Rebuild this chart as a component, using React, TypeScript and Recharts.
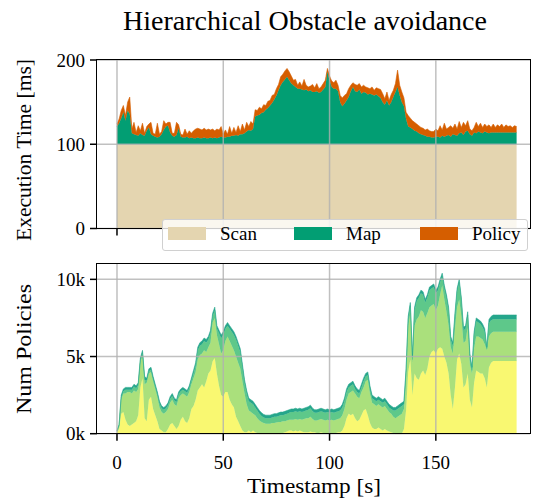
import { AreaChart, Area, XAxis, YAxis, ReferenceLine } from 'recharts'

// seconds since start
const timestamps = [
  0, 1, 2, 3, 4, 5, 6, 7, 8, 9, 10, 11, 12, 13, 14, 15, 16, 17, 18, 19,
  20, 21, 22, 23, 24, 25, 26, 27, 28, 29, 30, 31, 32, 33, 34, 35, 36, 37, 38, 39,
  40, 41, 42, 43, 44, 45, 46, 47, 48, 49, 50, 51, 52, 53, 54, 55, 56, 57, 58, 59,
  60, 61, 62, 63, 64, 65, 66, 67, 68, 69, 70, 71, 72, 73, 74, 75, 76, 77, 78, 79,
  80, 81, 82, 83, 84, 85, 86, 87, 88, 89, 90, 91, 92, 93, 94, 95, 96, 97, 98, 99,
  100, 101, 102, 103, 104, 105, 106, 107, 108, 109, 110, 111, 112, 113, 114, 115, 116, 117, 118, 119,
  120, 121, 122, 123, 124, 125, 126, 127, 128, 129, 130, 131, 132, 133, 134, 135, 136, 137, 138, 139,
  140, 141, 142, 143, 144, 145, 146, 147, 148, 149, 150, 151, 152, 153, 154, 155, 156, 157, 158, 159,
  160, 161, 162, 163, 164, 165, 166, 167, 168, 169, 170, 171, 172, 173, 174, 175, 176, 177, 178, 179,
  180, 181, 182, 183, 184, 185, 186, 187, 188,
]

// execution time per stage [ms]
const scanMs = [
  100, 100, 100, 100, 100, 100, 100, 100, 100, 100, 100, 100, 100, 100, 100, 100, 100, 100, 100, 100,
  100, 100, 100, 100, 100, 100, 100, 100, 100, 100, 100, 100, 100, 100, 100, 100, 100, 100, 100, 100,
  100, 100, 100, 100, 100, 100, 100, 100, 100, 100, 100, 100, 100, 100, 100, 100, 100, 100, 100, 100,
  100, 100, 100, 100, 100, 100, 100, 100, 100, 100, 100, 100, 100, 100, 100, 100, 100, 100, 100, 100,
  100, 100, 100, 100, 100, 100, 100, 100, 100, 100, 100, 100, 100, 100, 100, 100, 100, 100, 100, 100,
  100, 100, 100, 100, 100, 100, 100, 100, 100, 100, 100, 100, 100, 100, 100, 100, 100, 100, 100, 100,
  100, 100, 100, 100, 100, 100, 100, 100, 100, 100, 100, 100, 100, 100, 100, 100, 100, 100, 100, 100,
  100, 100, 100, 100, 100, 100, 100, 100, 100, 100, 100, 100, 100, 100, 100, 100, 100, 100, 100, 100,
  100, 100, 100, 100, 100, 100, 100, 100, 100, 100, 100, 100, 100, 100, 100, 100, 100, 100, 100, 100,
  100, 100, 100, 100, 100, 100, 100, 100, 100,
]

const mapMs = [
  21, 25, 31, 38, 28, 40, 36, 13, 12, 11, 10, 13, 11, 10, 16, 20, 12, 10, 9, 8,
  9, 12, 17, 21, 22, 14, 10, 9, 11, 19, 9, 8, 8, 9, 7, 8, 7, 7, 8, 7,
  7, 8, 7, 7, 8, 7, 8, 7, 8, 9, 8, 8, 9, 9, 10, 10, 11, 10, 12, 12,
  13, 15, 17, 16, 18, 33, 34, 35, 37, 38, 41, 43, 46, 49, 53, 58, 64, 70, 74, 77,
  80, 76, 72, 70, 68, 66, 66, 65, 64, 65, 63, 64, 62, 62, 63, 61, 62, 65, 68, 86,
  76, 68, 66, 66, 63, 50, 45, 48, 52, 56, 63, 68, 63, 62, 65, 60, 62, 61, 59, 60,
  59, 58, 59, 57, 55, 50, 47, 52, 46, 50, 56, 62, 68, 58, 50, 45, 30, 21, 20, 18,
  16, 15, 13, 12, 11, 10, 9, 9, 8, 8, 9, 9, 8, 10, 9, 10, 11, 9, 12, 11,
  10, 13, 14, 11, 15, 16, 12, 10, 14, 13, 15, 14, 13, 15, 14, 13, 14, 14, 14, 14,
  14, 14, 14, 14, 14, 14, 14, 14, 14,
]

const policyMs = [
  3, 5, 9, 8, 6, 10, 20, 5, 14, 3, 12, 3, 14, 3, 5, 4, 14, 3, 3, 17,
  3, 3, 11, 3, 4, 12, 3, 4, 15, 4, 3, 3, 10, 3, 9, 5, 9, 11, 11, 11,
  10, 11, 10, 11, 9, 11, 8, 11, 9, 12, 4, 9, 3, 12, 3, 10, 3, 12, 3, 12,
  4, 11, 4, 11, 6, 8, 6, 9, 5, 9, 5, 8, 6, 9, 6, 8, 7, 10, 9, 10,
  10, 10, 9, 6, 9, 4, 8, 4, 13, 5, 5, 5, 9, 5, 9, 5, 6, 7, 8, 4,
  5, 7, 7, 10, 7, 8, 10, 10, 8, 10, 7, 5, 8, 8, 7, 8, 8, 7, 8, 6,
  9, 6, 8, 9, 10, 10, 7, 10, 6, 9, 8, 10, 20, 12, 12, 10, 8, 13, 11, 10,
  10, 9, 9, 8, 8, 7, 9, 7, 7, 7, 9, 7, 14, 7, 16, 8, 9, 13, 7, 13,
  8, 14, 6, 15, 7, 12, 6, 6, 6, 13, 6, 11, 7, 9, 7, 10, 6, 10, 6, 9,
  7, 10, 6, 9, 7, 8, 6, 8, 7,
]

// number of policies, stacked levels (bottom to top)
const policiesL1 = [
  100, 300, 1300, 1400, 900, 600, 500, 600, 700, 800, 1200, 3000, 3600, 1000, 800, 2200, 2400, 1600, 1200, 800,
  300, 200, 100, 100, 300, 600, 700, 500, 300, 500, 900, 1100, 800, 700, 1000, 1600, 1800, 2200, 2800, 3000,
  3200, 3000, 3400, 3900, 4100, 4700, 4900, 3900, 3100, 2500, 2400, 2700, 2700, 2200, 1900, 1700, 1100, 800, 500, 200,
  100, 100, 200, 100, 200, 100, 50, 0, 0, 0, 0, 0, 0, 0, 0, 0, 0, 0, 50, 100,
  150, 200, 200, 150, 200, 150, 200, 150, 100, 100, 100, 150, 100, 100, 50, 50, 100, 50, 50, 50,
  50, 50, 50, 50, 100, 100, 200, 500, 1000, 1300, 1200, 1300, 1000, 800, 900, 1200, 1500, 1600, 1200, 700,
  400, 300, 300, 400, 300, 200, 300, 200, 150, 100, 50, 0, 0, 0, 0, 300, 1500, 4000, 4800, 2500,
  3900, 3600, 3500, 3900, 4100, 3800, 4200, 5000, 5300, 5400, 5200, 5500, 5600, 5500, 5000, 4600, 3900, 2500, 1600, 3000,
  4800, 5200, 4500, 3000, 3200, 3900, 2200, 1700, 3300, 4100, 4000, 3900, 3900, 3600, 3000, 4300, 4600, 4710, 4710, 4710,
  4710, 4710, 4710, 4710, 4710, 4710, 4710, 4710, 4710,
]

const policiesL2 = [
  50, 200, 900, 1200, 1700, 2100, 2200, 2000, 2100, 1900, 1700, 1600, 1500, 2200, 2500, 1700, 1600, 1800, 1700, 1600,
  1400, 1200, 1200, 1300, 1300, 1400, 1500, 1400, 1500, 1800, 1600, 1500, 1700, 1700, 1700, 1600, 1800, 1800, 2000, 2100,
  2000, 2400, 1900, 1700, 1800, 2500, 2600, 2500, 2700, 2700, 3000, 3300, 3600, 3800, 3800, 3700, 3900, 3800, 3700, 3200,
  2500, 1800, 1300, 1300, 1100, 1100, 950, 850, 750, 700, 650, 650, 650, 700, 700, 720, 750, 750, 750, 700,
  700, 700, 700, 750, 750, 750, 750, 750, 850, 900, 900, 950, 850, 750, 800, 850, 850, 850, 800, 850,
  800, 850, 800, 850, 850, 900, 1000, 1100, 1200, 1300, 1500, 1500, 1600, 1600, 1400, 1500, 1500, 1800, 2300, 1900,
  1600, 1600, 1500, 1500, 1500, 1500, 1500, 1400, 1250, 1200, 1050, 1000, 1100, 1200, 1300, 1300, 2000, 3000, 3000, 2100,
  3100, 3800, 4100, 4100, 3800, 3700, 3600, 3200, 3000, 3000, 2800, 2800, 3400, 4100, 3700, 3300, 3100, 3100, 3600, 3800,
  3400, 3500, 3100, 2900, 2800, 3000, 2300, 2200, 2200, 2200, 2300, 2300, 2200, 2200, 2400, 2000, 1900, 1900, 1900, 1900,
  1900, 1900, 1900, 1900, 1900, 1900, 1900, 1900, 1900,
]

const policiesL3 = [
  20, 50, 150, 150, 250, 150, 150, 250, 250, 250, 250, 150, 150, 300, 150, 150, 150, 150, 150, 150,
  250, 250, 250, 250, 250, 250, 250, 250, 250, 250, 250, 250, 250, 250, 250, 250, 300, 400, 600, 600,
  600, 600, 600, 500, 600, 400, 500, 400, 700, 1000, 1000, 800, 700, 800, 900, 1000, 1100, 1100, 1100, 900,
  700, 700, 600, 600, 600, 500, 500, 450, 400, 350, 350, 350, 350, 350, 400, 380, 400, 450, 400, 450,
  450, 450, 500, 500, 500, 500, 500, 500, 500, 500, 550, 550, 500, 500, 500, 500, 500, 500, 500, 500,
  500, 500, 500, 500, 500, 500, 500, 500, 500, 400, 400, 400, 300, 300, 300, 300, 400, 300, 300, 300,
  300, 300, 300, 300, 300, 300, 300, 300, 300, 300, 400, 500, 500, 500, 500, 300, 500, 400, 500, 200,
  1000, 1200, 1200, 1100, 1100, 1000, 1000, 1100, 1100, 1100, 1100, 1000, 800, 600, 700, 900, 1000, 500, 500, 800,
  1000, 1100, 1000, 800, 800, 800, 500, 200, 900, 1000, 900, 900, 800, 800, 100, 850, 850, 800, 800, 800,
  800, 800, 800, 800, 800, 800, 800, 800, 800,
]

const policiesL4 = [
  30, 50, 150, 150, 150, 150, 150, 150, 150, 150, 150, 150, 150, 200, 150, 150, 150, 150, 150, 150,
  150, 150, 150, 150, 150, 150, 150, 150, 150, 150, 150, 150, 150, 150, 150, 150, 200, 200, 200, 200,
  200, 200, 200, 200, 200, 200, 200, 200, 200, 200, 200, 200, 200, 200, 200, 200, 200, 200, 200, 200,
  200, 200, 200, 200, 200, 200, 200, 200, 200, 200, 200, 200, 200, 200, 200, 200, 200, 200, 200, 200,
  200, 200, 200, 200, 200, 200, 200, 200, 200, 200, 200, 200, 200, 200, 200, 200, 200, 200, 200, 200,
  200, 200, 200, 200, 200, 200, 200, 200, 200, 200, 200, 200, 200, 200, 200, 200, 200, 200, 200, 200,
  200, 200, 200, 200, 200, 200, 200, 200, 200, 200, 200, 200, 200, 200, 200, 200, 200, 200, 200, 200,
  200, 200, 200, 200, 200, 200, 200, 200, 200, 200, 200, 200, 200, 200, 200, 200, 200, 200, 200, 200,
  200, 200, 200, 200, 200, 200, 200, 200, 200, 200, 200, 200, 200, 200, 100, 250, 250, 280, 280, 280,
  280, 280, 280, 280, 280, 280, 280, 280, 280,
]

const xTicks = [0, 50, 100, 150]
const execTicks = [0, 100, 200]
const policyTicks = [0, 5000, 10000]

const stages = [
  { key: 'scan', name: 'Scan', color: '#e4d5b0' },
  { key: 'map', name: 'Map', color: '#029e73' },
  { key: 'policy', name: 'Policy', color: '#d55e00' },
]
const levels = [
  { key: 'l1', color: '#f9f871' },
  { key: 'l2', color: '#aae07c' },
  { key: 'l3', color: '#5ec88a' },
  { key: 'l4', color: '#25a68b' },
]

const execData = timestamps.map((t, i) => ({ t, scan: scanMs[i], map: mapMs[i], policy: policyMs[i] }))
const policyData = timestamps.map((t, i) => ({
  t, l1: policiesL1[i], l2: policiesL2[i], l3: policiesL3[i], l4: policiesL4[i],
}))

const FONT = '"Liberation Serif", "Times New Roman", serif'
const tickStyle = { fill: '#000', fontSize: 19, fontFamily: FONT }
const gridColor = '#b0b0b0'
const xDomain: [number, number] = [-9.4, 194.3]

const PLOT_LEFT = 97
const PLOT_RIGHT = 530

const Box = ({ top, bottom }: { top: number; bottom: number }) => (
  <div
    style={{
      position: 'absolute', left: PLOT_LEFT - 0.75, top: top - 0.75,
      width: PLOT_RIGHT - PLOT_LEFT + 1.5, height: bottom - top + 1.5,
      border: '1.5px solid #000', boxSizing: 'border-box', pointerEvents: 'none',
    }}
  />
)

const App = () => {
  return (
    <div style={{ position: 'absolute', left: 0, top: 0, width: 541, height: 500, background: '#fff' }}>
      {/* top: execution time */}
      <div style={{ position: 'absolute', left: 0, top: 0 }}>
        <AreaChart width={541} height={262} data={execData} margin={{ top: 60, right: 541 - PLOT_RIGHT, bottom: 0, left: 0 }}>
          <XAxis
            dataKey="t" type="number" domain={xDomain} ticks={xTicks} allowDataOverflow
            height={33.5} axisLine={false} tickSize={7} tickFormatter={() => ''}
            tickLine={{ stroke: '#000', strokeWidth: 1.5 }}
          />
          <YAxis
            type="number" domain={[0, 200]} ticks={execTicks} width={PLOT_LEFT} axisLine={false}
            tickSize={7} tickMargin={5} tick={tickStyle} tickLine={{ stroke: '#000', strokeWidth: 1.5 }}
          />
          {stages.map((s) => (
            <Area
              key={s.key} dataKey={s.key} name={s.name} stackId="exec" type="linear"
              fill={s.color} fillOpacity={1} stroke={s.color} strokeWidth={0.6}
              isAnimationActive={false} dot={false} activeDot={false}
            />
          ))}
          {xTicks.map((x) => (
            <ReferenceLine key={'vx' + x} x={x} stroke={gridColor} strokeWidth={1.5} strokeOpacity={0.8} />
          ))}
          {execTicks.map((y) => (
            <ReferenceLine key={'hy' + y} y={y} stroke={gridColor} strokeWidth={1.5} strokeOpacity={0.8} />
          ))}
        </AreaChart>
      </div>
      <Box top={60} bottom={228.5} />

      {/* bottom: number of policies */}
      <div style={{ position: 'absolute', left: 0, top: 240 }}>
        <AreaChart width={541} height={260} data={policyData} margin={{ top: 23.3, right: 541 - PLOT_RIGHT, bottom: 0, left: 0 }}>
          <XAxis
            dataKey="t" type="number" domain={xDomain} ticks={xTicks} allowDataOverflow
            height={66.3} axisLine={false} tickSize={7} tickMargin={15} tick={tickStyle}
            tickLine={{ stroke: '#000', strokeWidth: 1.5 }}
          />
          <YAxis
            type="number" domain={[0, 11040]} ticks={policyTicks} width={PLOT_LEFT} axisLine={false}
            tickSize={7} tickMargin={5} tick={tickStyle} tickLine={{ stroke: '#000', strokeWidth: 1.5 }}
            tickFormatter={(v: number) => `${v / 1000}k`}
          />
          {levels.map((l) => (
            <Area
              key={l.key} dataKey={l.key} stackId="pol" type="linear"
              fill={l.color} fillOpacity={1} stroke={l.color} strokeWidth={0.6}
              isAnimationActive={false} dot={false} activeDot={false}
            />
          ))}
          {xTicks.map((x) => (
            <ReferenceLine key={'vx' + x} x={x} stroke={gridColor} strokeWidth={1.5} strokeOpacity={0.8} />
          ))}
          {policyTicks.map((y) => (
            <ReferenceLine key={'hy' + y} y={y} stroke={gridColor} strokeWidth={1.5} strokeOpacity={0.8} />
          ))}
        </AreaChart>
      </div>
      <Box top={263.3} bottom={433.7} />

      {/* legend */}
      <div
        style={{
          position: 'absolute', left: 162, top: 219, width: 366, height: 32,
          background: 'rgba(255,255,255,0.8)', border: '1.5px solid #d0d0d0', borderRadius: 3,
          boxSizing: 'border-box', fontFamily: FONT, fontSize: 19,
        }}
      >
        {stages.map((s, i) => (
          <div key={s.key} style={{ position: 'absolute', left: 5 + i * 126, top: 6.5 }}>
            <div style={{ position: 'absolute', left: 0, top: 0, width: 38, height: 13, background: s.color }} />
            <span style={{ position: 'absolute', left: 52, top: -4, whiteSpace: 'nowrap' }}>{s.name}</span>
          </div>
        ))}
      </div>

      {/* titles */}
      <svg width={541} height={500} style={{ position: 'absolute', left: 0, top: 0, pointerEvents: 'none' }}>
        <text x={305} y={30} textAnchor="middle" fontFamily={FONT} fontSize={27} textLength={364} lengthAdjust="spacingAndGlyphs">
          Hierarchical Obstacle avoidance
        </text>
        <text x={314} y={493} textAnchor="middle" fontFamily={FONT} fontSize={21} textLength={134} lengthAdjust="spacingAndGlyphs">
          Timestamp [s]
        </text>
        <text transform="translate(31,150) rotate(-90)" textAnchor="middle" fontFamily={FONT} fontSize={21} textLength={182} lengthAdjust="spacingAndGlyphs">
          Execution Time [ms]
        </text>
        <text transform="translate(31,349) rotate(-90)" textAnchor="middle" fontFamily={FONT} fontSize={21} textLength={130} lengthAdjust="spacingAndGlyphs">
          Num Policies
        </text>
      </svg>
    </div>
  )
}

export default App
